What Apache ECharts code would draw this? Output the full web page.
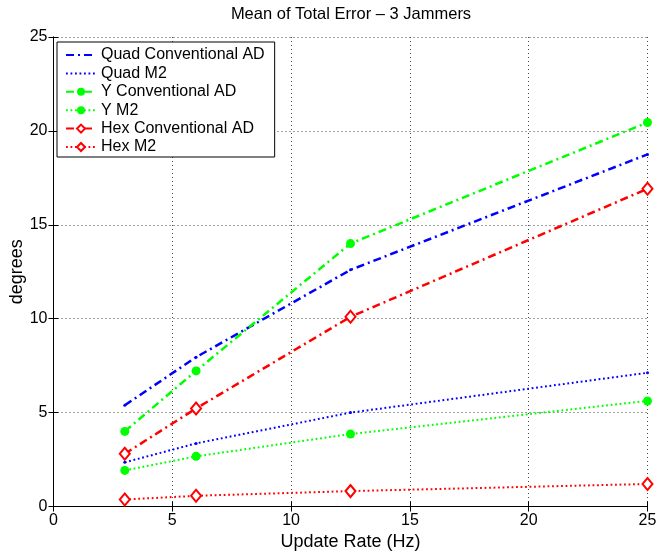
<!DOCTYPE html>
<html>
<head>
<meta charset="utf-8">
<script src="https://cdn.jsdelivr.net/npm/echarts@6/dist/echarts.min.js"></script>
<style>html,body{margin:0;padding:0;background:#fff}#c{width:660px;height:553px}</style>
</head>
<body>
<div id="c"></div>
<script>
var updateRate = [3, 6, 12.5, 25];
var quadConv = [5.39, 7.95, 12.6, 18.75];
var quadM2 = [2.35, 3.36, 5.0, 7.12];
var yConv = [4.0, 7.22, 14.0, 20.45];
var yM2 = [1.92, 2.67, 3.86, 5.62];
var hexConv = [2.81, 5.22, 10.1, 16.92];
var hexM2 = [0.37, 0.57, 0.82, 1.2];
var axisTicks = [0, 5, 10, 15, 20, 25];
var seriesNames = ['Quad Conventional AD', 'Quad M2', 'Y Conventional AD', 'Y M2', 'Hex Conventional AD', 'Hex M2'];

var FONT = 'Liberation Sans, Arial, Helvetica, sans-serif';
var DASHDOT = [8, 4, 2, 4];
var DOT = [1.8, 2.7];

function pairs(ys) { return updateRate.map(function (x, i) { return [x, ys[i]]; }); }

function mk(name, ys, color, dash, width, symbol, size, empty) {
  return {
    name: name, type: 'line', data: pairs(ys),
    symbol: symbol, symbolSize: size, showSymbol: true,
    lineStyle: { color: color, type: dash, width: width },
    itemStyle: empty ? { color: color, borderColor: color, borderWidth: 2 } : { color: color, borderWidth: 0 },
    z: 5
  };
}

var chart = echarts.init(document.getElementById('c'));
var axisCommon = {
  type: 'value', min: axisTicks[0], max: axisTicks[axisTicks.length - 1], interval: axisTicks[1] - axisTicks[0],
  axisLine: { show: true, lineStyle: { color: '#000', width: 1 } },
  axisTick: { show: true, inside: true, length: 5, lineStyle: { color: '#000' } }
};
chart.setOption({
  animation: false,
  backgroundColor: '#fff',
  textStyle: { fontFamily: FONT },
  title: {
    text: 'Mean of Total Error \u2013 3 Jammers',
    left: 351, top: 6, padding: 0, textAlign: 'center',
    textStyle: { fontFamily: FONT, fontSize: 16.5, fontWeight: 'normal', color: '#000' }
  },
  grid: { left: 53.5, right: 12.5, top: 37, bottom: 46.5, containLabel: false, outerBoundsMode: 'none' },
  legend: {
    orient: 'vertical', left: 57, top: 42,
    padding: [5, 10, 2, 8],
    itemWidth: 30, itemHeight: 10, itemGap: 2.4,
    backgroundColor: '#fff', borderColor: '#000', borderWidth: 1,
    textStyle: { fontFamily: FONT, fontSize: 16, color: '#000' },
    data: seriesNames.map(function (n, i) {
      return i < 2 ? { name: n, itemStyle: { opacity: 0 } } : { name: n };
    })
  },
  xAxis: [
    Object.assign({}, axisCommon, {
      position: 'bottom',
      name: 'Update Rate (Hz)', nameLocation: 'middle', nameGap: 27, nameMoveOverlap: false,
      nameTextStyle: { fontFamily: FONT, fontSize: 18, color: '#000' },
      axisLabel: { fontFamily: FONT, fontSize: 16, color: '#000', margin: 6 },
      splitLine: { show: true, lineStyle: { color: '#444', type: [1, 3], width: 1 } }
    }),
    Object.assign({}, axisCommon, {
      position: 'top', axisLabel: { show: false }, splitLine: { show: false }
    })
  ],
  yAxis: [
    Object.assign({}, axisCommon, {
      position: 'left',
      name: 'degrees', nameLocation: 'middle', nameGap: 27, nameRotate: 90, nameMoveOverlap: false,
      nameTextStyle: { fontFamily: FONT, fontSize: 18, color: '#000' },
      axisLabel: { fontFamily: FONT, fontSize: 16, color: '#000', margin: 6 },
      splitLine: { show: true, lineStyle: { color: '#444', type: [1, 3], width: 1 } }
    }),
    Object.assign({}, axisCommon, {
      position: 'right', axisLabel: { show: false }, splitLine: { show: false }
    })
  ],
  series: [
    mk(seriesNames[0], quadConv, '#0000ff', DASHDOT, 2.5, 'circle', 3, false),
    mk(seriesNames[1], quadM2, '#0000ff', DOT, 2, 'circle', 3, false),
    mk(seriesNames[2], yConv, '#00ff00', DASHDOT, 2.5, 'circle', 9, false),
    mk(seriesNames[3], yM2, '#00ff00', DOT, 2, 'circle', 9, false),
    mk(seriesNames[4], hexConv, '#ff0000', DASHDOT, 2.5, 'emptyDiamond', [10, 12], true),
    mk(seriesNames[5], hexM2, '#ff0000', DOT, 2, 'emptyDiamond', [10, 12], true)
  ]
});
</script>
</body>
</html>
